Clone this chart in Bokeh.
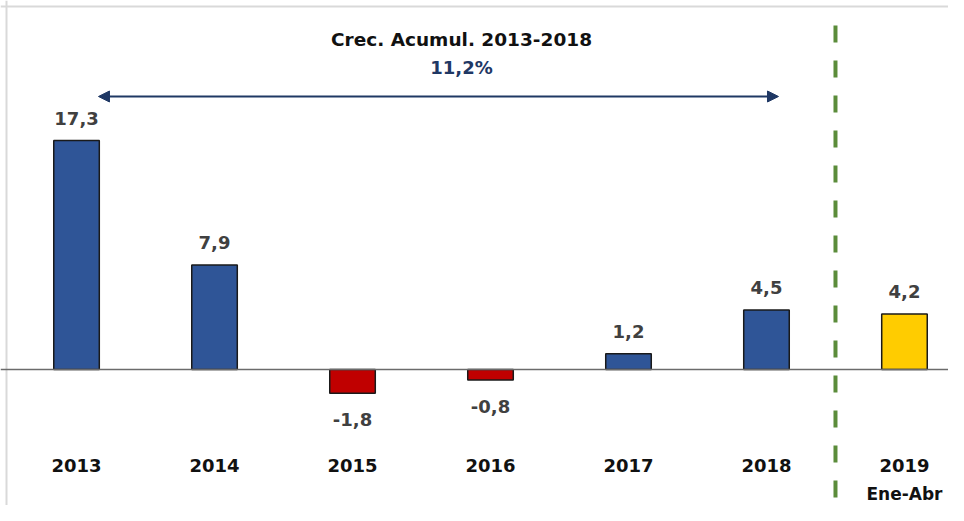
from bokeh.plotting import figure
from bokeh.models import Range1d, Span, Arrow, NormalHead, Label, ColumnDataSource
from bokeh.core.properties import value
from bokeh.embed import file_html
from bokeh.resources import INLINE

# ---- data ----
categories = ["2013", "2014", "2015", "2016", "2017", "2018", "2019"]
growth = [17.3, 7.9, -1.8, -0.8, 1.2, 4.5, 4.2]
value_labels = ["17,3", "7,9", "-1,8", "-0,8", "1,2", "4,5", "4,2"]
sub_label = "Ene-Abr"
title_text = "Crec. Acumul. 2013-2018"
cum_text = "11,2%"

BLUE = "#2F5597"
RED = "#C00000"
YELLOW = "#FFCC00"

xs = list(range(len(categories)))
colors = []
for i, v in enumerate(growth):
    if i == len(growth) - 1:
        colors.append(YELLOW)
    elif v < 0:
        colors.append(RED)
    else:
        colors.append(BLUE)

lab_off = [-22 if v >= 0 else 26 for v in growth]

src = ColumnDataSource(dict(x=xs, top=growth, color=colors, lab=value_labels,
                            off=lab_off, cat=categories, zero=[0] * len(xs)))

W, H = 948, 505
X0, X1, Y0, Y1 = -0.551, 6.319, -10.27, 27.87
p = figure(width=W, height=H, output_backend="svg", toolbar_location=None,
           x_range=Range1d(X0, X1), y_range=Range1d(Y0, Y1),
           x_axis_location=None, y_axis_location=None, min_border=0)
p.xgrid.visible = False
p.ygrid.visible = False
p.outline_line_color = None
p.background_fill_color = "white"

# light frame on left/top (crop of a boxed chart)
px_x = (X1 - X0) / W
px_y = (Y1 - Y0) / H
p.add_layout(Span(location=X0 + 6 * px_x, dimension="height", line_color="#d9d9d9", line_width=2))
p.add_layout(Span(location=Y1 - 6 * px_y, dimension="width", line_color="#d9d9d9", line_width=2))

# zero line
p.add_layout(Span(location=0, dimension="width", line_color="#6b6b6b", line_width=1.5))

# bars
p.vbar(x="x", top="top", bottom=0, width=0.33, fill_color="color",
       line_color="#1a1a1a", line_width=1.5, source=src)

# value labels
p.text(x="x", y="top", text="lab", y_offset="off", source=src,
       text_font=value("DejaVu Sans"), text_font_style="bold", text_font_size="18px",
       text_color="#404040", text_align="center", text_baseline="alphabetic")

# category labels
p.text(x="x", y="zero", text="cat", y_offset=96, source=src,
       text_font=value("DejaVu Sans"), text_font_style="bold", text_font_size="18px",
       text_color="#111111", text_align="center", text_baseline="alphabetic")

# sub label under last category
p.add_layout(Label(x=xs[-1], y=0, text=sub_label, y_offset=-124,
                   text_font="DejaVu Sans", text_font_style="bold", text_font_size="17px",
                   text_color="#111111", text_align="center", text_baseline="alphabetic"))

# green dashed separator
sep_x = (xs[-2] + xs[-1]) / 2
p.segment(x0=[sep_x], y0=[25.98], x1=[sep_x], y1=[-11], line_color="#5B8C3A",
          line_width=4, line_dash="17 18")

# cumulative arrow
p.add_layout(Arrow(x_start=0.159, y_start=20.62, x_end=5.087, y_end=20.62,
                   line_color="#1F3864", line_width=2,
                   start=NormalHead(size=11, fill_color="#1F3864", line_color="#1F3864"),
                   end=NormalHead(size=11, fill_color="#1F3864", line_color="#1F3864")))

p.add_layout(Label(x=461, y=H - 39, x_units="screen", y_units="screen", text=title_text,
                   text_font="DejaVu Sans", text_font_style="bold", text_font_size="18.5px",
                   text_color="#111111", text_align="center", text_baseline="alphabetic"))
p.add_layout(Label(x=461, y=H - 67, x_units="screen", y_units="screen", text=cum_text,
                   text_font="DejaVu Sans", text_font_style="bold", text_font_size="18px",
                   text_color="#1F3864", text_align="center", text_baseline="alphabetic"))

open("out.html", "w").write(file_html(p, INLINE))
